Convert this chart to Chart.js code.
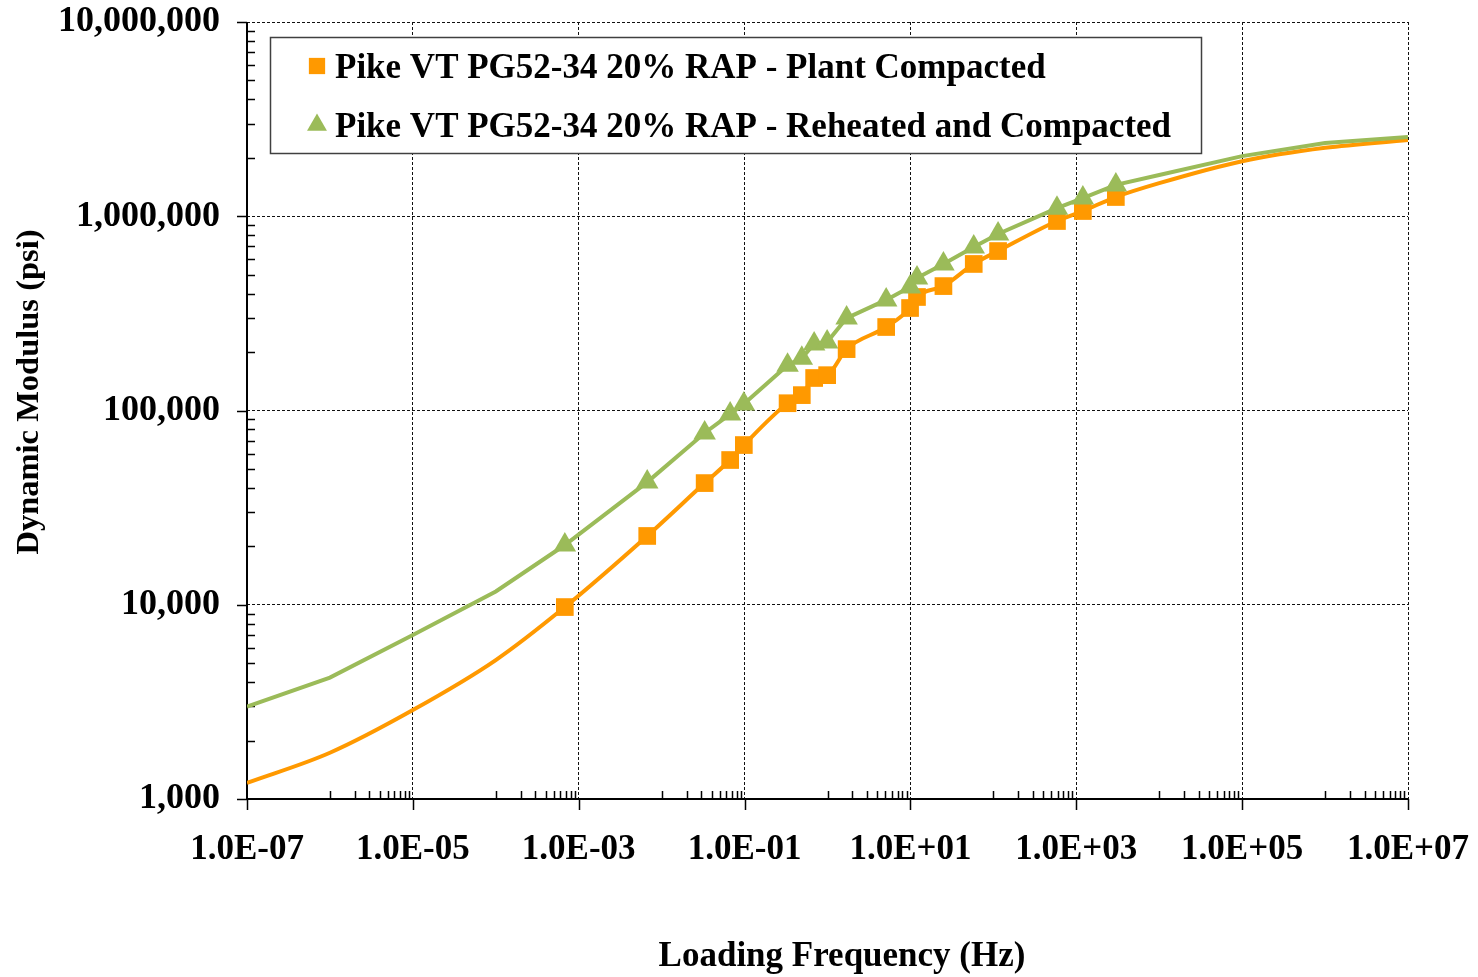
<!DOCTYPE html>
<html lang="en">
<head>
    <meta charset="UTF-8">
    <title>Dynamic Modulus Master Curves</title>
    <script src="https://cdn.jsdelivr.net/npm/chart.js@4"></script>
    <style>
        body { margin: 0; background: #fff; }
        canvas { display: block; }
    </style>
</head>
<body>
    <canvas id="modulusChart" width="1478" height="977"></canvas>

    <script>
        // measured loading frequencies (Hz), shared by both mixes
        const freqMeasured = [0.00068, 0.0067, 0.033, 0.067, 0.098, 0.33, 0.49, 0.69, 0.99, 1.7,
                              5.1, 9.9, 12, 25, 58, 114, 585, 1200, 3000];
        const plantE = [9730, 22600, 42300, 55600, 66400, 109000, 120000, 147000, 152000, 207000,
                        269000, 337000, 384000, 437000, 568000, 662000, 945000, 1064000, 1256000];
        const reheatE = [20300, 42800, 76600, 95900, 108000, 171000, 186000, 220000, 225000, 299000,
                         371000, 432000, 481000, 568000, 695000, 810000, 1100000, 1240000, 1450000];

        // master curve values outside the tested range
        const curveLowFreq = [1e-7, 1e-6, 1e-5, 1e-4];
        const plantLow = [1210, 1730, 2870, 5190];
        const reheatLow = [2990, 4220, 6990, 11700];
        const curveHighFreq = [1e4, 1e5, 1e6, 1e7];
        const plantHigh = [1480000, 1920000, 2250000, 2470000];
        const reheatHigh = [1630000, 2040000, 2380000, 2560000];

        const xTicks = [1e-7, 1e-5, 1e-3, 1e-1, 1e1, 1e3, 1e5, 1e7];
        const yTicks = [1e3, 1e4, 1e5, 1e6, 1e7];

        const seriesLabels = ['Pike VT PG52-34 20% RAP - Plant Compacted',
                              'Pike VT PG52-34 20% RAP - Reheated and Compacted'];
        const xTitle = 'Loading Frequency (Hz)';
        const yTitle = 'Dynamic Modulus (psi)';
        const orange = '#FF9900';
        const green = '#9BBB59';
        const fontFamily = '"Liberation Serif", "Times New Roman", serif';
        const boldFont = 'bold 35px ' + fontFamily;

        function toPoints(xs, ys) {
            return xs.map((x, i) => ({ x: x, y: ys[i] }));
        }
        function curve(lowY, measY, highY) {
            return toPoints(curveLowFreq, lowY)
                .concat(toPoints(freqMeasured, measY))
                .concat(toPoints(curveHighFreq, highY));
        }

        // minor ticks, major tick marks and solid axis lines
        const axisPlugin = {
            id: 'axisTicks',
            beforeDatasetsDraw(chart) {
                const ctx = chart.ctx;
                const x = chart.scales.x, y = chart.scales.y;
                const a = chart.chartArea;
                ctx.save();
                ctx.strokeStyle = '#000';
                ctx.lineWidth = 1.5;
                ctx.beginPath();
                // minor x ticks in the unlabeled decades
                for (let e = -6; e <= 6; e += 2) {
                    for (let k = 1; k <= 9; k++) {
                        const px = Math.round(x.getPixelForValue(k * Math.pow(10, e))) + 0.5;
                        ctx.moveTo(px, a.bottom);
                        ctx.lineTo(px, a.bottom - 8);
                    }
                }
                // minor y ticks
                for (let e = 3; e < 7; e++) {
                    for (let k = 2; k <= 9; k++) {
                        const py = Math.round(y.getPixelForValue(k * Math.pow(10, e))) + 0.5;
                        ctx.moveTo(a.left, py);
                        ctx.lineTo(a.left + 8, py);
                    }
                }
                // major ticks, outside
                xTicks.forEach(v => {
                    const px = Math.round(x.getPixelForValue(v)) + 0.5;
                    ctx.moveTo(px, a.bottom);
                    ctx.lineTo(px, a.bottom + 11);
                });
                yTicks.forEach(v => {
                    const py = Math.round(y.getPixelForValue(v)) + 0.5;
                    ctx.moveTo(a.left - 10, py);
                    ctx.lineTo(a.left, py);
                });
                ctx.stroke();
                ctx.lineWidth = 2;
                ctx.beginPath();
                ctx.moveTo(a.left, a.top);
                ctx.lineTo(a.left, a.bottom);
                ctx.lineTo(a.right, a.bottom);
                ctx.stroke();
                ctx.restore();
            }
        };

        // axis titles, placed off-centre like the original sheet
        const titlesPlugin = {
            id: 'axisTitles',
            afterDraw(chart) {
                const ctx = chart.ctx;
                ctx.save();
                ctx.fillStyle = '#000';
                ctx.textAlign = 'center';
                ctx.textBaseline = 'middle';
                ctx.font = boldFont;
                ctx.fillText(xTitle, 842, 957);
                ctx.font = 'bold 32.5px ' + fontFamily;
                ctx.translate(30, 392);
                ctx.rotate(-Math.PI / 2);
                ctx.fillText(yTitle, 0, 0);
                ctx.restore();
            }
        };

        // boxed legend inside the plot
        const legendBox = {
            id: 'legendBox',
            afterDraw(chart) {
                const ctx = chart.ctx;
                ctx.save();
                ctx.fillStyle = '#fff';
                ctx.fillRect(270, 37, 931, 116);
                ctx.strokeStyle = '#404040';
                ctx.lineWidth = 1.5;
                ctx.strokeRect(270.5, 37.5, 931, 116);
                const rows = [66, 125];
                [2, 3].forEach((di, i) => {
                    const ds = chart.data.datasets[di];
                    ctx.fillStyle = ds.pointBackgroundColor;
                    ctx.strokeStyle = ds.pointBorderColor;
                    Chart.helpers.drawPoint(ctx, {
                        pointStyle: ds.pointStyle,
                        radius: 11.5,
                        rotation: 0,
                        borderWidth: 0
                    }, 317, rows[i]);
                    ctx.fillStyle = '#000';
                    ctx.font = boldFont;
                    ctx.textBaseline = 'middle';
                    ctx.textAlign = 'left';
                    ctx.fillText(ds.label, 335, rows[i] + 3);
                });
                ctx.restore();
            }
        };

        const ctx = document.getElementById('modulusChart').getContext('2d');

        const chart = new Chart(ctx, {
            type: 'line',
            data: {
                datasets: [
                    {
                        label: 'plant curve',
                        data: curve(plantLow, plantE, plantHigh),
                        borderColor: orange,
                        borderWidth: 4,
                        pointRadius: 0,
                        cubicInterpolationMode: 'monotone',
                        order: 3
                    },
                    {
                        label: 'reheated curve',
                        data: curve(reheatLow, reheatE, reheatHigh),
                        borderColor: green,
                        borderWidth: 4,
                        pointRadius: 0,
                        order: 2
                    },
                    {
                        label: seriesLabels[0],
                        data: toPoints(freqMeasured, plantE),
                        showLine: false,
                        pointStyle: 'rect',
                        pointRadius: 12.5,
                        pointBackgroundColor: orange,
                        pointBorderColor: orange,
                        pointBorderWidth: 0,
                        order: 1
                    },
                    {
                        label: seriesLabels[1],
                        data: toPoints(freqMeasured, reheatE),
                        showLine: false,
                        pointStyle: 'triangle',
                        pointRadius: 13,
                        pointBackgroundColor: green,
                        pointBorderColor: green,
                        pointBorderWidth: 0,
                        order: 0
                    }
                ]
            },
            options: {
                responsive: false,
                animation: false,
                layout: { padding: { left: 0, top: 22, right: 70, bottom: 0 } },
                plugins: {
                    legend: { display: false },
                    tooltip: { enabled: false }
                },
                scales: {
                    x: {
                        type: 'logarithmic',
                        min: 1e-7,
                        max: 1e7,
                        afterBuildTicks: s => { s.ticks = xTicks.map(v => ({ value: v })); },
                        afterFit: s => { s.height = 178; s.paddingLeft = 0; s.paddingRight = 0; },
                        ticks: {
                            autoSkip: false,
                            maxRotation: 0,
                            padding: 30,
                            color: '#000',
                            font: { family: fontFamily, weight: 'bold', size: 35 },
                            callback: v => {
                                const e = Math.round(Math.log10(v));
                                return '1.0E' + (e < 0 ? '-' : '+') + String(Math.abs(e)).padStart(2, '0');
                            }
                        },
                        grid: { color: '#111', lineWidth: 1, drawTicks: false },
                        border: { display: false, dash: [3, 2] }
                    },
                    y: {
                        type: 'logarithmic',
                        min: 1000,
                        max: 1e7,
                        afterBuildTicks: s => { s.ticks = yTicks.map(v => ({ value: v })); },
                        afterFit: s => { s.width = 247; s.paddingTop = 0; s.paddingBottom = 0; },
                        ticks: {
                            autoSkip: false,
                            padding: 27,
                            color: '#000',
                            font: { family: fontFamily, weight: 'bold', size: 36 },
                            callback: v => Number(v).toLocaleString('en-US')
                        },
                        grid: { color: '#111', lineWidth: 1, drawTicks: false },
                        border: { display: false, dash: [3, 2] }
                    }
                }
            },
            plugins: [axisPlugin, titlesPlugin, legendBox]
        });
    </script>
</body>
</html>
